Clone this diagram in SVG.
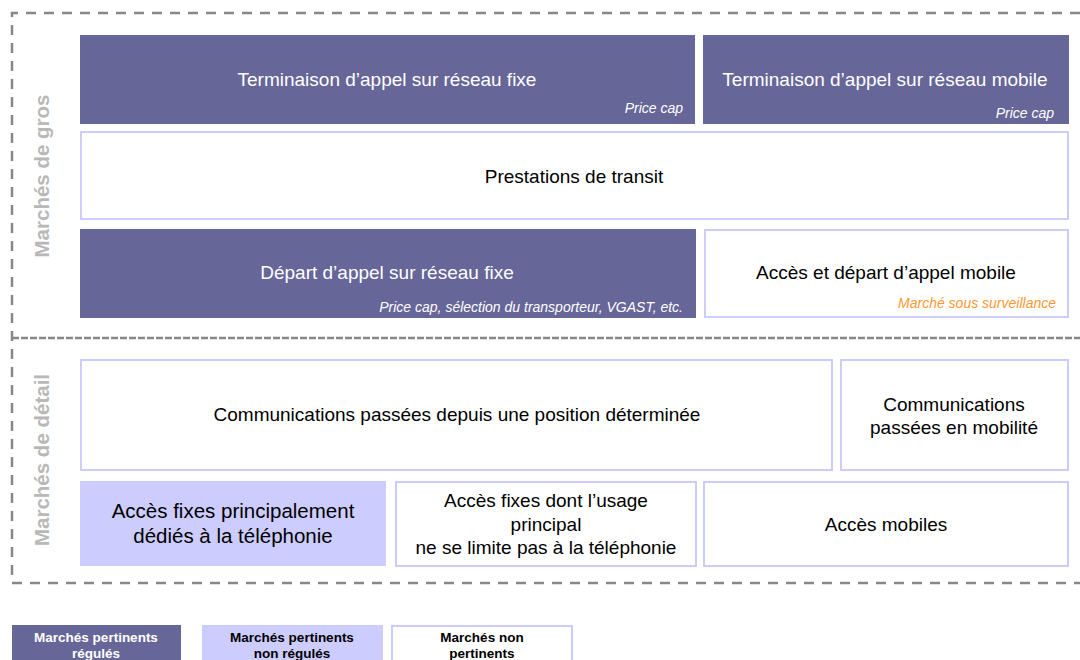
<svg xmlns="http://www.w3.org/2000/svg" width="1080" height="660" viewBox="0 0 1080 660">
<style>
text{font-family:"Liberation Sans",Arial,sans-serif}
.dark{fill:#666699}
.light{fill:#ccccff}
.white{fill:#ffffff;stroke:#ccccff;stroke-width:2}
.lw{fill:#ffffff;font-size:19px;text-anchor:middle}
.lb{fill:#000000;font-size:19px;text-anchor:middle}
.sub{fill:#ffffff;font-size:14px;font-style:italic;text-anchor:end}
.orange{fill:#ff9933;font-size:14px;font-style:italic;text-anchor:end}
.side{fill:#b8b8b8;font-size:20.5px;font-weight:bold;text-anchor:middle}
.frame{fill:none;stroke:#888888;stroke-width:2.5;stroke-dasharray:10 8}
.mid{fill:none;stroke:#888888;stroke-width:2.5;stroke-dasharray:7 2}
.leg{font-size:13.5px;font-weight:bold;text-anchor:middle}
</style>
<rect width="1080" height="660" fill="#ffffff"/>
<g id="frame">
<path class="frame" d="M1080 13 H12 V583 H1080"/>
<path class="mid" d="M12 338 H1080"/>
<text class="side" transform="translate(49,176) rotate(-90)">Marchés de gros</text>
<text class="side" transform="translate(49,460) rotate(-90)">Marchés de détail</text>
</g>
<g id="term-fixe">
<rect class="dark" x="80" y="35" width="615" height="89"/>
<text class="lw" x="387" y="86">Terminaison d’appel sur réseau fixe</text>
<text class="sub" x="683" y="113">Price cap</text>
</g>
<g id="term-mobile">
<rect class="dark" x="703" y="35" width="366" height="89"/>
<text class="lw" x="885" y="86">Terminaison d’appel sur réseau mobile</text>
<text class="sub" x="1054" y="118">Price cap</text>
</g>
<g id="transit">
<rect class="white" x="81" y="132" width="987" height="87"/>
<text class="lb" x="574" y="183">Prestations de transit</text>
</g>
<g id="depart-fixe">
<rect class="dark" x="80" y="229" width="616" height="89"/>
<text class="lw" x="387" y="279">Départ d’appel sur réseau fixe</text>
<text class="sub" x="683" y="312">Price cap, sélection du transporteur, VGAST, etc.</text>
</g>
<g id="depart-mobile">
<rect class="white" x="705" y="230" width="363" height="87"/>
<text class="lb" x="886" y="279">Accès et départ d’appel mobile</text>
<text class="orange" x="1056" y="308">Marché sous surveillance</text>
</g>
<g id="comm-fixe">
<rect class="white" x="81" y="360" width="751" height="110"/>
<text class="lb" x="457" y="421">Communications passées depuis une position déterminée</text>
</g>
<g id="comm-mobile">
<rect class="white" x="841" y="360" width="227" height="110"/>
<text class="lb" x="954" y="411">Communications</text>
<text class="lb" x="954" y="434">passées en mobilité</text>
</g>
<g id="acces-fixes-tel">
<rect class="light" x="80" y="481" width="306" height="85"/>
<text class="lb" x="233" y="518" style="font-size:20.5px">Accès fixes principalement</text>
<text class="lb" x="233" y="543" style="font-size:20.5px">dédiés à la téléphonie</text>
</g>
<g id="acces-fixes-autres">
<rect class="white" x="396" y="482" width="300" height="84"/>
<text class="lb" x="546" y="507">Accès fixes dont l’usage</text>
<text class="lb" x="546" y="531">principal</text>
<text class="lb" x="546" y="554">ne se limite pas à la téléphonie</text>
</g>
<g id="acces-mobiles">
<rect class="white" x="704" y="482" width="364" height="84"/>
<text class="lb" x="886" y="531">Accès mobiles</text>
</g>
<g id="legend">
<rect class="dark" x="12" y="625" width="169" height="40"/>
<text class="leg" x="96" y="642" fill="#ffffff">Marchés pertinents</text>
<text class="leg" x="96" y="658" fill="#ffffff">régulés</text>
<rect class="light" x="202" y="625" width="181" height="40"/>
<text class="leg" x="292" y="642" fill="#000000">Marchés pertinents</text>
<text class="leg" x="292" y="658" fill="#000000">non régulés</text>
<rect class="white" x="392" y="626" width="180" height="40"/>
<text class="leg" x="482" y="642" fill="#000000">Marchés non</text>
<text class="leg" x="482" y="658" fill="#000000">pertinents</text>
</g>
</svg>
